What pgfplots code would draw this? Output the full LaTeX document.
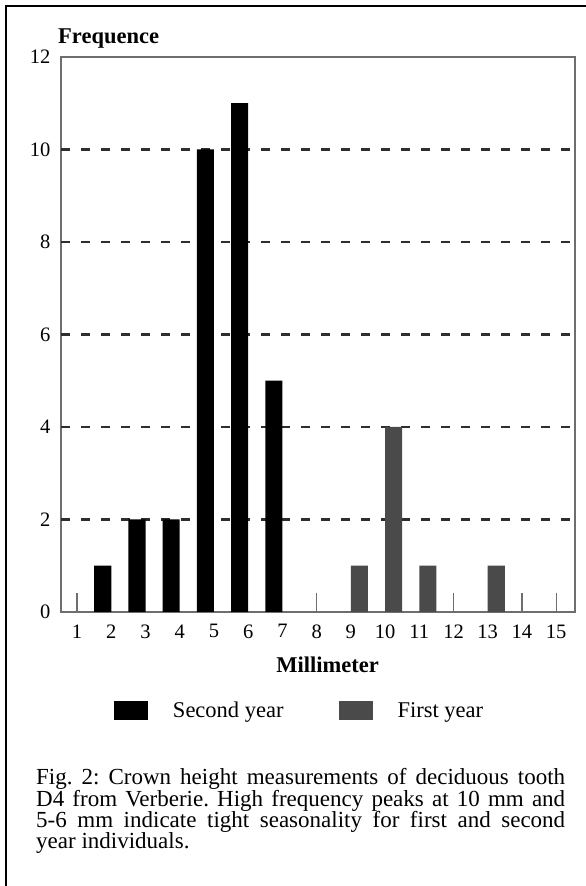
\documentclass[border=0pt]{standalone}
\usepackage{fontspec}
\setmainfont{Liberation Serif}
\usepackage{pgfplots}
\pgfplotsset{compat=1.18}
\definecolor{firstgray}{HTML}{4A4A4A}
\definecolor{axisgray}{HTML}{6E6E6E}
\definecolor{gridgray}{HTML}{2E2E2E}
\begin{document}
\begin{tikzpicture}
\useasboundingbox (0,0) rectangle (586pt,886pt);
% frame of the figure
\draw[line width=2pt] (5pt,880pt) -- (586pt,880pt);
\draw[line width=2pt] (6pt,0pt) -- (6pt,881pt);
\begin{axis}[
    at={(61pt,274pt)}, anchor=south west
  , scale only axis, width=514pt, height=555pt
  , xmin=0.53, xmax=15.55, ymin=0, ymax=12
  , ybar=0pt, bar width=0.5
  , axis line style={axisgray, line width=1.2pt}
  , xtick={1,...,15}, xtick pos=left
  , ytick={0,2,...,12}, ytick pos=left
  , tick align=inside, major tick length=19pt
  , xtick style={draw=none}
  , ytick style={draw=none}
  % small marks only where no bar stands
  , extra x ticks={1,8,12,14,15}, extra x tick labels={}
  , extra x tick style={xtick style={draw=axisgray, line width=1.2pt}}
  , extra y ticks={2,4,6,8,10}, extra y tick labels={}
  , extra y tick style={grid=major, ytick style={draw=none}}
  , major grid style={gridgray, line width=2.6pt, dash pattern=on 9pt off 11pt}
  , tick label style={font=\fontsize{20.5}{24}\selectfont}
  , /pgf/number format/assume math mode=true
  , xticklabel style={yshift=-9pt}
  , yticklabel style={xshift=-7pt}
  , xlabel={\textbf{Millimeter}}
  , xlabel style={at={(axis description cs:0.5185,-0.1099)}, anchor=base, inner sep=0pt, font=\fontsize{22.5}{27}\selectfont}
  , ylabel={\textbf{Frequence}}
  , ylabel style={rotate=-90, at={(axis description cs:-0.0058,1.0252)}, anchor=base west, inner sep=0pt, font=\fontsize{22.5}{27}\selectfont}
  , legend cell align=left
  , legend columns=2
  , legend style={at={(axis description cs:0.1031,-0.1775)}, anchor=west, draw=none, fill=none,
                  inner sep=0pt, outer sep=0pt, nodes={inner sep=0pt},
                  font=\fontsize{22.5}{27}\selectfont,
                  /tikz/every odd column/.append style={column sep=25pt},
                  /tikz/every even column/.append style={column sep=55pt}}
  ]
\addplot[fill=black, draw=none,
  legend image code/.code={\fill[black] (0pt,-9.5pt) rectangle (34pt,9.5pt);}]
  coordinates {(2,1) (3,2) (4,2) (5,10) (6,11) (7,5)};
\addplot[fill=firstgray, draw=none,
  legend image code/.code={\fill[firstgray] (0pt,-9.5pt) rectangle (34pt,9.5pt);}]
  coordinates {(9,1) (10,4) (11,1) (13,1)};
\legend{Second year, First year}
\end{axis}
\node[anchor=base west, inner sep=0pt, font=\fontsize{23}{21.2}\selectfont] at (36pt,101pt)
  {\parbox[t]{529pt}{\frenchspacing\emergencystretch=2em Fig. 2: Crown height measurements of deciduous tooth\linebreak D4 from Verberie. High frequency peaks at 10~mm and\linebreak 5-6~mm indicate tight seasonality for first and second\linebreak year individuals.}};
\end{tikzpicture}
\end{document}
